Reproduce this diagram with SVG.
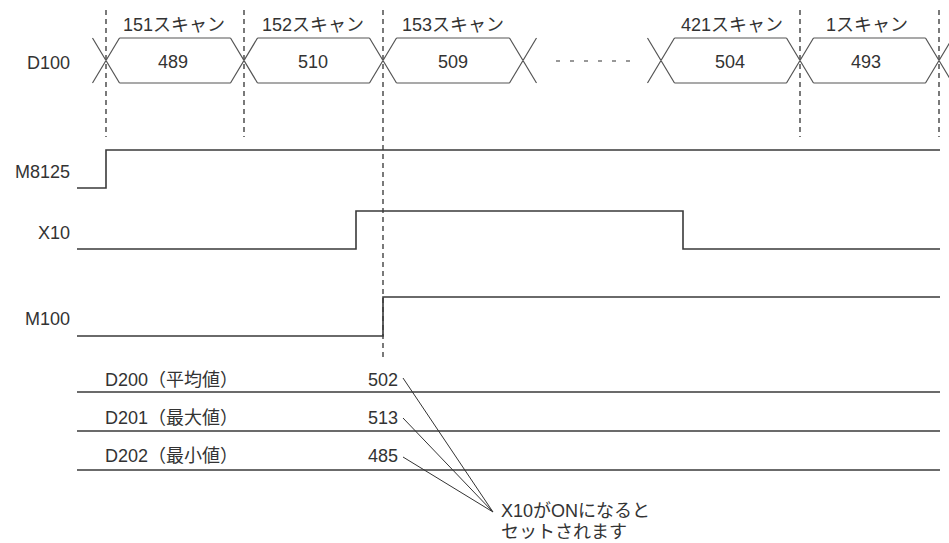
<svg xmlns="http://www.w3.org/2000/svg" width="949" height="543" viewBox="0 0 949 543">
<style>
text{font-family:"Liberation Sans","Noto Sans CJK JP",sans-serif;font-size:18px;fill:#333}
.lbl{text-anchor:end}
.mid{text-anchor:middle}
.sig{fill:none;stroke:#3a3a3a;stroke-width:1.6}
.bus{fill:none;stroke:#555;stroke-width:1.2}
.dash{fill:none;stroke:#222;stroke-width:1.2;stroke-dasharray:5,4}
.call{fill:none;stroke:#333;stroke-width:1}
</style>
<rect width="949" height="543" fill="#fff"/>
<g id="guides">
<path class="dash" d="M106,10V137M244,10V137M383,10V357M800,10V137M939,10V137"/>
</g>
<g id="D100">
<text class="lbl" x="70" y="69">D100</text>
<path class="bus" d="M92.5,38L119.5,83M92.5,83L119.5,38M119.5,38H230.5M119.5,83H230.5M230.5,38L257.5,83M230.5,83L257.5,38M257.5,38H369.5M257.5,83H369.5M369.5,38L396.5,83M369.5,83L396.5,38M396.5,38H509.5M396.5,83H509.5M509.5,38L536.5,83M509.5,83L536.5,38M647.5,38L674.5,83M647.5,83L674.5,38M674.5,38H786.5M674.5,83H786.5M786.5,38L813.5,83M786.5,83L813.5,38M813.5,38H925.5M813.5,83H925.5M925.5,38L952.5,83M925.5,83L952.5,38"/>
<path fill="none" stroke="#333" stroke-width="1.2" stroke-dasharray="4,10" d="M556,61H632"/>
<text class="mid" x="174" y="31">151スキャン</text>
<text class="mid" x="313" y="31">152スキャン</text>
<text class="mid" x="453" y="31">153スキャン</text>
<text class="mid" x="732" y="31">421スキャン</text>
<text class="mid" x="867" y="31">1スキャン</text>
<text class="mid" x="173" y="68">489</text>
<text class="mid" x="313" y="68">510</text>
<text class="mid" x="453" y="68">509</text>
<text class="mid" x="730" y="68">504</text>
<text class="mid" x="866" y="68">493</text>
</g>
<g id="M8125">
<text class="lbl" x="70" y="178">M8125</text>
<path class="sig" d="M77,188H106V150H940"/>
</g>
<g id="X10">
<text class="lbl" x="70" y="239">X10</text>
<path class="sig" d="M77,249H356V211H683V249H940"/>
</g>
<g id="M100">
<text class="lbl" x="70" y="325">M100</text>
<path class="sig" d="M77,336H383V297H940"/>
</g>
<g id="D200">
<text x="105" y="386">D200（平均値）</text>
<text class="lbl" x="398" y="386">502</text>
<path class="sig" d="M77,392H940"/>
</g>
<g id="D201">
<text x="105" y="424">D201（最大値）</text>
<text class="lbl" x="398" y="424">513</text>
<path class="sig" d="M77,431H940"/>
</g>
<g id="D202">
<text x="105" y="462">D202（最小値）</text>
<text class="lbl" x="398" y="462">485</text>
<path class="sig" d="M77,470H940"/>
</g>
<g id="note">
<text x="501" y="517">X10がONになると</text>
<text x="501" y="538">セットされます</text>
</g>
<g id="connectors">
<path class="call" d="M403,378L493,512M403,418L493,512M403,457L493,512"/>
</g>
</svg>
